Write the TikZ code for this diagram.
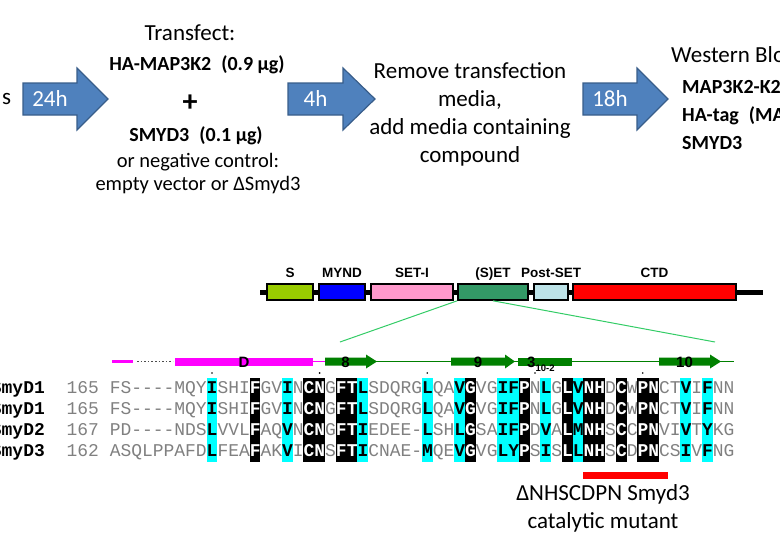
\documentclass[tikz,border=0pt]{standalone}
\usepackage{fontspec}
\setmainfont{Carlito}
\setsansfont{Liberation Sans}
\setmonofont{Liberation Mono}[Ligatures=TeXOff]
\usetikzlibrary{positioning}
\definecolor{arrowblue}{HTML}{4F81BD}
\definecolor{arrowedge}{HTML}{385D8A}
\definecolor{sgreen}{HTML}{99CC00}
\definecolor{pinkd}{HTML}{FF99CC}
\definecolor{setgreen}{HTML}{339966}
\definecolor{postblue}{HTML}{BDE3E8}
\definecolor{ssgreen}{HTML}{008000}
\definecolor{ssmag}{HTML}{FF00FF}
\definecolor{zoomgreen}{HTML}{33CC66}
\definecolor{seqgrey}{HTML}{808080}
\definecolor{hlcyan}{HTML}{00FFFF}
\definecolor{mutred}{HTML}{FF0000}
\begin{document}
\begin{tikzpicture}[x=1pt,y=-1pt,
txt/.style={font=\fontsize{23}{28}\selectfont,align=center,inner sep=0pt},
boldtxt/.style={font=\fontsize{20}{28}\selectfont\bfseries,inner sep=0pt},
steparrow/.style={fill=arrowblue,draw=arrowedge,line width=1.2pt,line join=miter},
hrs/.style={txt,text=white},
dom/.style={draw,line width=1.6pt,minimum height=16pt,inner sep=0pt},
domlab/.style={font=\sffamily\bfseries\fontsize{13.5}{14}\selectfont,inner sep=0pt,anchor=base},
sslab/.style={font=\sffamily\bfseries\fontsize{15}{15}\selectfont,inner sep=0pt,anchor=base},
res/.style={font=\ttfamily\fontsize{17.95}{21}\selectfont,text=seqgrey,inner sep=0pt,anchor=base west},
hl/.style={res,font=\ttfamily\bfseries\fontsize{17.95}{21}\selectfont,text=black},
hlw/.style={hl,text=white}]
\useasboundingbox (0,0) rectangle (780,550);
% protocol
\foreach \nm/\lx/\hx/\tx/\hr in {a1/23/77/108/24h,a2/288/343/375/4h,a3/583/637/668/18h}
 {\draw[steparrow] (\lx,83) -- (\hx,83) -- (\hx,68) -- (\tx,99) -- (\hx,130)
 -- (\hx,115) -- (\lx,115) -- cycle;
 \node[hrs] (\nm) at ({(\lx+\hx)/2},99) {\hr};}
\node[txt,anchor=west] (cells) at (2,99) {s};
\node[txt] (tf) at (190,33) {Transfect:};
\node[boldtxt] (ha) at (197,65) {HA-MAP3K2\enspace(0.9 µg)};
\node[font=\fontsize{30}{30}\selectfont\bfseries,inner sep=0pt] (plus) at (190,103) {+};
\node[boldtxt] (smyd) at (196,136) {SMYD3\enspace(0.1 µg)};
\node[txt,font=\fontsize{20.5}{23}\selectfont] (neg) at (198,174)
 {or negative control:\\empty vector or ΔSmyd3};
\node[txt] (rm) at (470,114) {Remove transfection\\media,\\add media containing\\compound};
\node[txt,anchor=west] (wb) at (671,55) {Western Blo};
\node[boldtxt,align=left,anchor=west] (blots) at (682,115)
 {MAP3K2-K2\\HA-tag\enspace(MA\\SMYD3};
% domains
\draw[line width=5pt] (260,292) -- (763,292);
\foreach \nm/\lx/\rx/\fc/\tx in {dS/267/313/sgreen/S,dMYND/319/365/blue/MYND,
 dSETI/371/453/pinkd/SET-I,dSET/458/528/setgreen/(S)ET,dPost/534/568/postblue/Post-SET,
 dCTD/573/736/mutred/CTD}
 {\node[dom,fill=\fc,minimum width={\rx-\lx}] (\nm) at ({(\lx+\rx)/2},292) {};
 \node[domlab] at ({(\lx+\rx)/2},277) {\tx};}
\coordinate (zl) at (340,342);
\coordinate (zr) at (715,342);
\draw[zoomgreen,line width=1pt] (dSET.south west) -- (zl);
\draw[zoomgreen,line width=1pt] (dSET.south) -- (zr);
% secondary structure
\draw[ssmag,line width=2.5pt] (112,361.5) -- (133,361.5);
\draw[seqgrey!60!black,line width=1.6pt,dotted] (137,361.5) -- (173,361.5);
\draw[ssmag,line width=1.5pt] (175,361.5) -- (325,361.5);
\draw[ssgreen,line width=1.5pt] (325,361.5) -- (734,361.5);
\node[fill=ssmag,minimum width=138,minimum height=8,inner sep=0pt] (helD) at (244,361.5) {};
\node[sslab] at (244,367) {D};
\foreach \nm/\lx/\hx/\tx/\lb in {b8/325/366/377/8,b9/451/505/515/9,b10/659/710/721/10}
 {\fill[ssgreen] (\lx,357.5) -- (\hx,357.5) -- (\hx,354.5) -- (\tx,361.5) -- (\hx,368.5)
 -- (\hx,365.5) -- (\lx,365.5) -- cycle;
 \node[sslab] (\nm) at ({(\lx+\hx)/2},367) {\lb};}
\fill[ssgreen] (518,357.5) rectangle (572,365.5);
\node[sslab,anchor=base west] (h310) at (527,367)
 {3\raisebox{-4pt}{\fontsize{9.5}{10}\selectfont 10-2}};
\foreach \col in {9,19,29,39,49}
 \fill ({115+\col*10.77},373) circle (0.9);
% alignment
\foreach \yy/\nm/\num/\segs in {
 388/SmyD1/165/{0/FS----MQY,10/SHI,14/GV,17/N,20/G,24/SDQRG,30/QA,34/VG,39/N,41/G,46/D,48/W,51/CT,54/I,56/NN},
 409/SmyD1/165/{0/FS----MQY,10/SHI,14/GV,17/N,20/G,24/SDQRG,30/QA,34/VG,39/N,41/G,46/D,48/W,51/CT,54/I,56/NN},
 430/SmyD2/167/{0/PD----NDS,10/VVL,14/AQ,17/N,20/G,24/EDEE-,30/SH,34/SA,39/D,41/A,46/S,48/C,51/VI,54/T,56/KG},
 451/SmyD3/162/{0/ASQLPPAFD,10/FEA,14/AK,17/I,20/S,24/CNAE-,30/QE,34/VG,39/S,41/S,46/S,48/D,51/CS,54/V,56/NG}}
 {\node[hl,anchor=base east] at (45,\yy+5) {\nm};
 \node[res] at (66.5,\yy+5) {\num};
 \foreach \col/\sq in \segs
 \node[res] at ({115+(\col-0.5)*10.77},\yy+5) {\sq};}
\foreach \col/\ra/\rb/\rc in {9/I/L/L,16/I/V/V,23/L/I/I,29/L/L/M,32/V/L/V,36/I/I/L,
 37/F/F/Y,40/L/V/I,43/V/M/L,53/V/V/I,55/F/Y/F}
 {\fill[hlcyan] ({115+(\col-0.5)*10.77},377.5) rectangle ({115+(\col+0.5)*10.77},461.5);
 \foreach \yy/\lt in {388/\ra,409/\ra,430/\rb,451/\rc}
 \node[hl] at ({115+(\col-0.5)*10.77},\yy+5) {\lt};}
\foreach \col/\lt in {13/F,18/C,19/N,21/F,22/T,33/G,38/P,42/L,44/N,45/H,47/C,49/P,50/N}
 {\fill ({115+(\col-0.5)*10.77},377.5) rectangle ({115+(\col+0.5)*10.77},461.5);
 \foreach \yy in {388,409,430,451}
 \node[hlw] at ({115+(\col-0.5)*10.77},\yy+5) {\lt};}
% mutant
\node[fill=mutred,minimum width=85,minimum height=7,inner sep=0pt] (mut) at (625.5,475.5) {};
\node[txt] (mutlab) at (603,508) {ΔNHSCDPN Smyd3\\catalytic mutant};
\end{tikzpicture}
\end{document}
